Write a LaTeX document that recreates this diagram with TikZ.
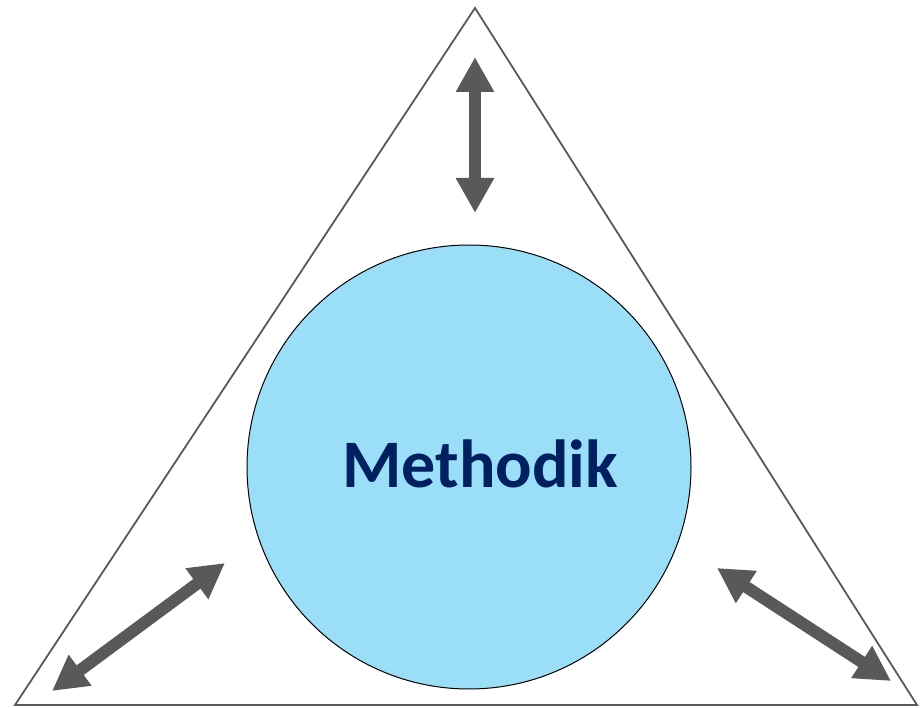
\documentclass[tikz,border=0pt]{standalone}
\usepackage{fontspec}
\setmainfont{Carlito}
\usetikzlibrary{arrows.meta}
\definecolor{arrowgray}{HTML}{595959}
\definecolor{lightblue}{HTML}{9BDEF8}
\definecolor{navy}{HTML}{002060}
\tikzset{
  bigarrow/.style={{Triangle[width=36pt,length=35pt]}-{Triangle[width=36pt,length=35pt]}, line width=12pt, arrowgray},
}
\begin{document}
\begin{tikzpicture}[x=1pt,y=-1pt]
  \useasboundingbox (0,0) rectangle (924,708);

  % triangle
  \coordinate (top) at (475,8);
  \coordinate (left) at (15,705);
  \coordinate (right) at (917,705);
  \draw[arrowgray, line width=1.8pt, line join=miter] (top) -- (left) -- (right) -- cycle;

  \node[circle, draw=black, line width=1pt, fill=lightblue, minimum size=444pt, inner sep=0pt] (method) at (469,467) {};
  \node[anchor=base, text=navy, font=\fontsize{68}{80}\selectfont\bfseries] (label) at (480,487) {Methodik};

  % arrows
  \coordinate (t1) at (475,57);
  \coordinate (t2) at (475,213);
  \coordinate (l1) at (52,691);
  \coordinate (l2) at (225,563);
  \coordinate (r1) at (717,568);
  \coordinate (r2) at (891,681);
  \draw[bigarrow] (t1) -- (t2);
  \draw[bigarrow] (l1) -- (l2);
  \draw[bigarrow] (r1) -- (r2);
\end{tikzpicture}
\end{document}
